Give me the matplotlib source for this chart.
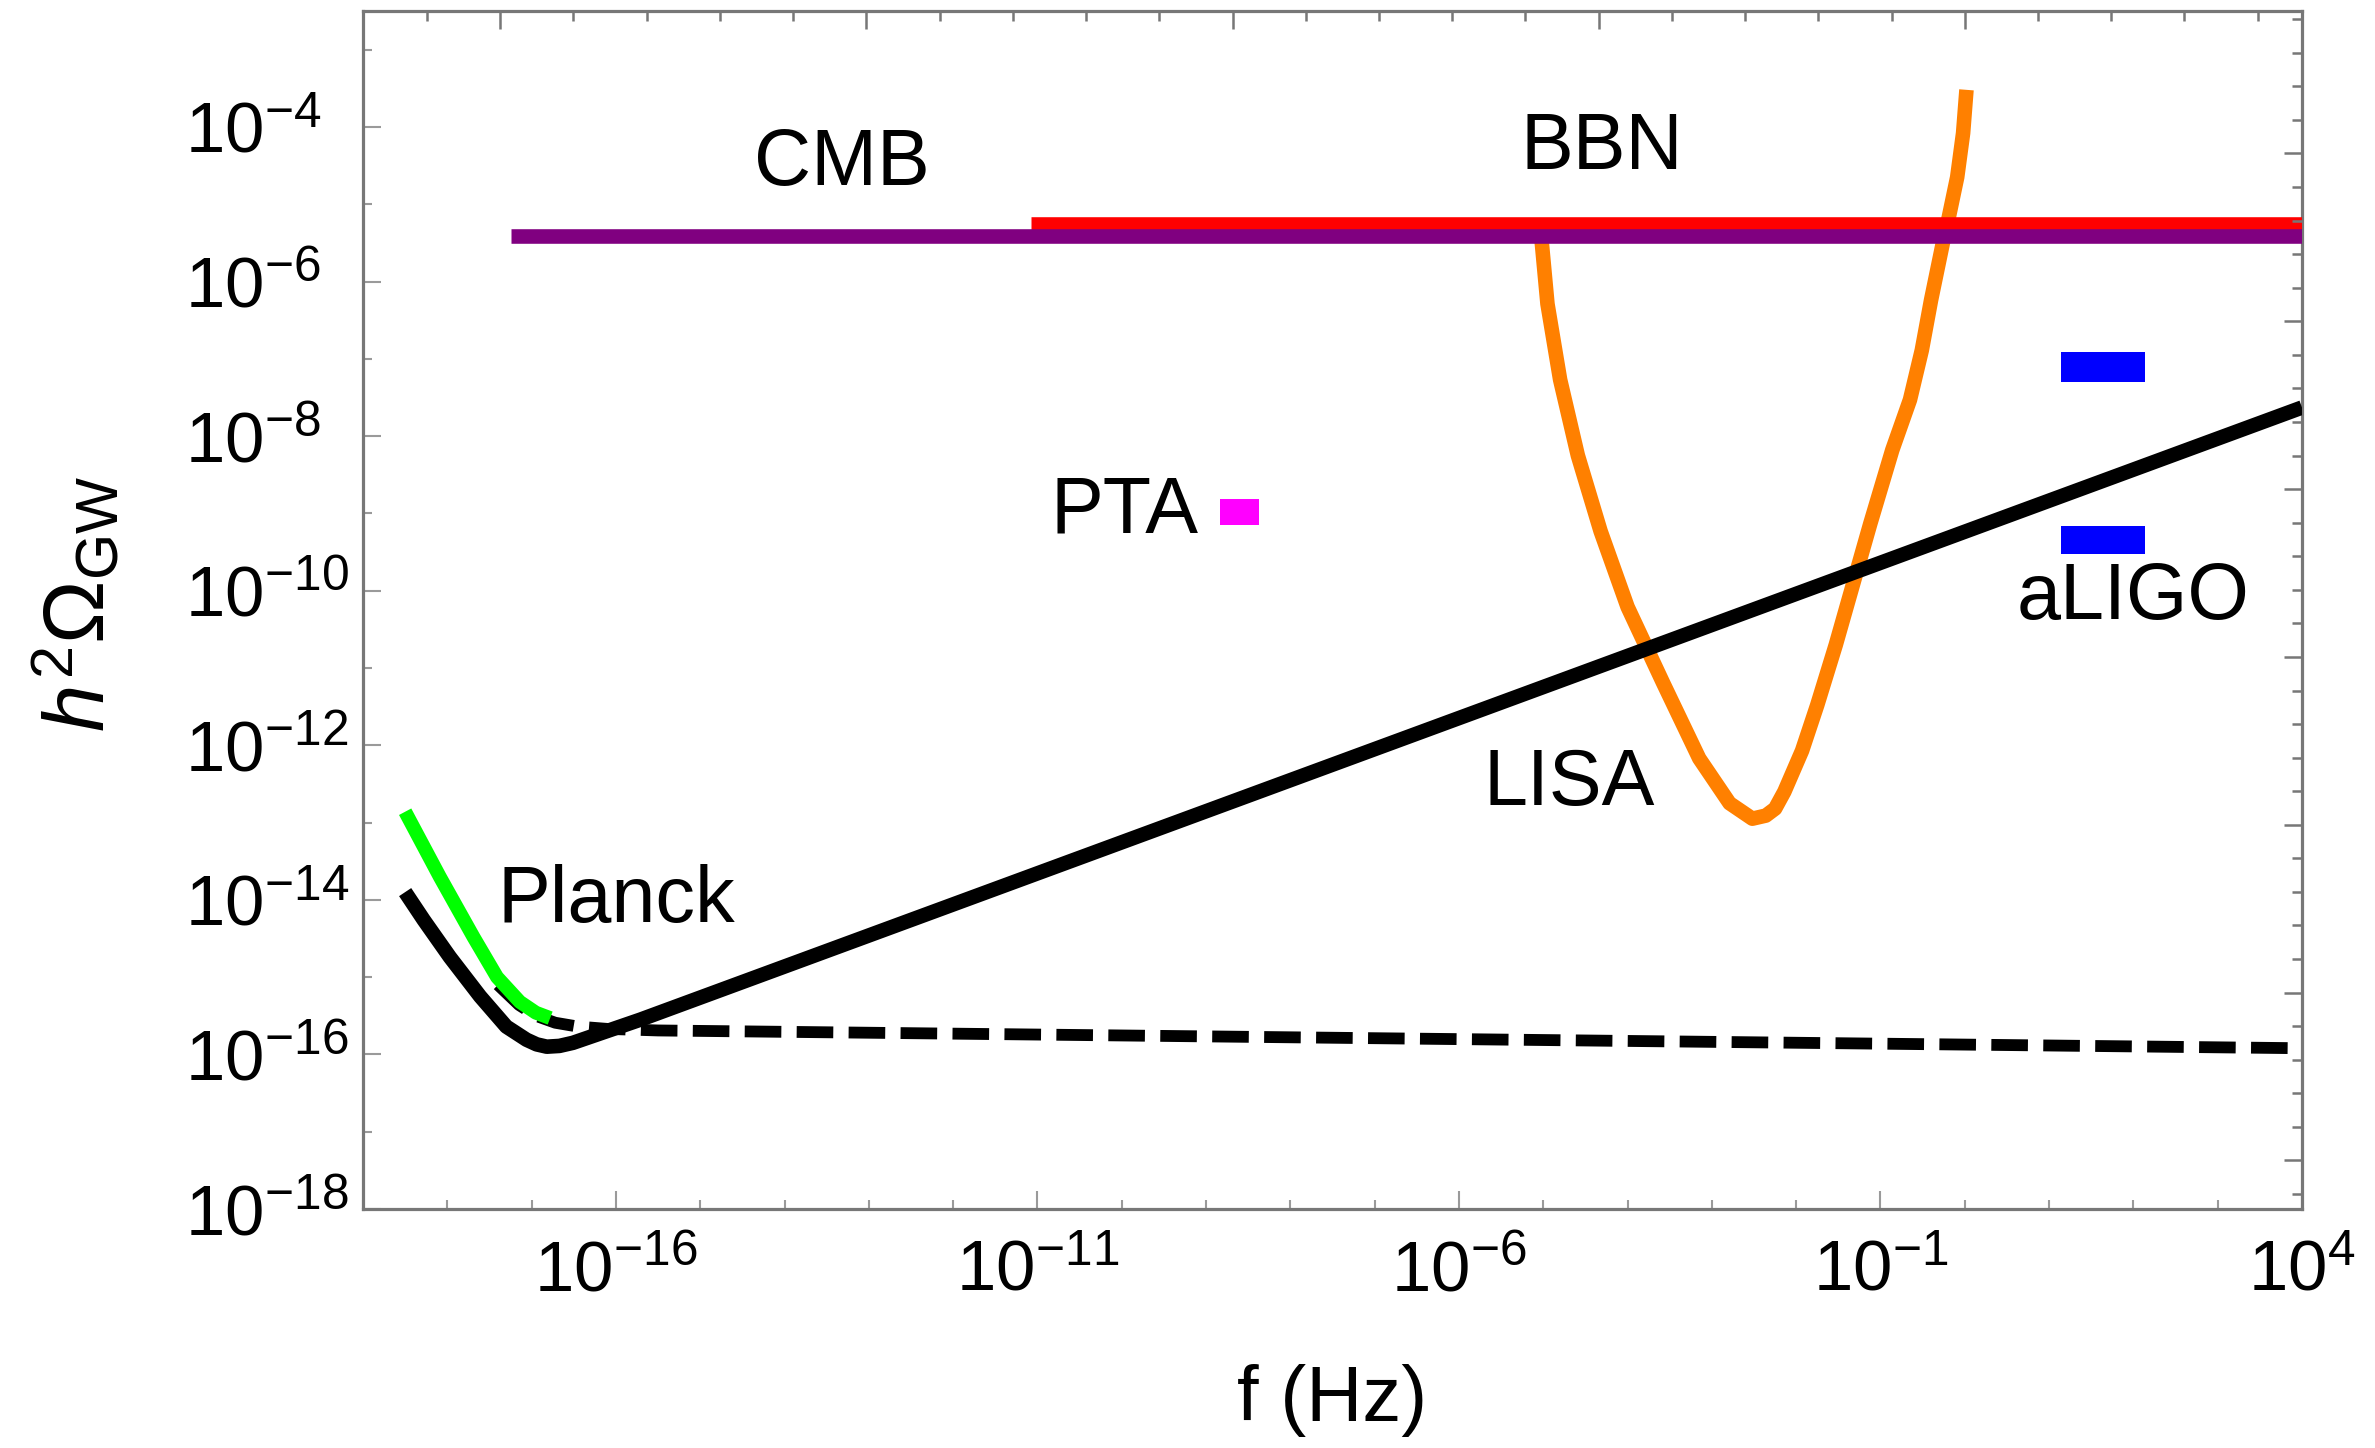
import numpy as np
import matplotlib.pyplot as plt
from matplotlib.ticker import FixedLocator, FuncFormatter, NullFormatter

plt.rcParams['font.family'] = ['Liberation Sans', 'DejaVu Sans']
plt.rcParams['mathtext.fontset'] = 'custom'
plt.rcParams['mathtext.rm'] = 'Liberation Sans'
plt.rcParams['mathtext.it'] = 'Liberation Sans:italic'
plt.rcParams['mathtext.bf'] = 'Liberation Sans:bold'


########## Data as log10(f) / log10(h^2 Omega)

##### solid black spectrum
model_logf = [-18.50, -18.28, -17.97, -17.61, -17.30, -17.06, -16.94, -16.82, -16.67,
              -16.51, -16.11, -15.71, 4.0]
model_logo = [-13.90, -14.26, -14.74, -15.25, -15.64, -15.81, -15.87, -15.90, -15.89,
              -15.85, -15.70, -15.55, -7.63]

##### dashed black spectrum
dashed_logf = [-17.40, -17.15, -16.95, -16.72, -16.45, -16.10, -15.50, 4.0]
dashed_logo = [-15.10, -15.36, -15.50, -15.59, -15.64, -15.67, -15.69, -15.92]

##### Planck (green)
planck_logf = [-18.50, -18.09, -17.69, -17.41, -17.14, -16.95, -16.78]
planck_logo = [-12.86, -13.70, -14.48, -15.00, -15.32, -15.46, -15.53]

##### LISA sensitivity (orange)
lisa_logf = [-5.03, -4.95, -4.80, -4.59, -4.32, -4.00, -3.58, -3.15, -2.79, -2.52,
             -2.36, -2.25, -2.14, -1.93, -1.75, -1.53, -1.35, -1.12, -0.86, -0.65,
             -0.51, -0.40, -0.26, -0.19, -0.09, -0.02, 0.02]
lisa_logo = [-5.35, -6.29, -7.27, -8.25, -9.23, -10.21, -11.19, -12.17, -12.75, -12.95,
             -12.91, -12.82, -12.60, -12.07, -11.48, -10.70, -10.01, -9.13, -8.18, -7.53,
             -6.89, -6.24, -5.50, -5.17, -4.65, -4.08, -3.52]

##### CMB and BBN bounds
cmb_logf = [-17.25, 4.0]
cmb_logo = -5.41
bbn_logf = [-11.08, 4.0]
bbn_logo = -5.25

##### PTA box and aLIGO boxes: [f_lo, f_hi], [o_lo, o_hi]
pta_logf = [-8.83, -8.37]
pta_logo = [-9.15, -8.82]
ligo_logf = [1.14, 2.14]
ligo_logo_o1 = [-7.30, -6.91]
ligo_logo_o2 = [-9.53, -9.16]

##### Text labels
label_text = ['CMB', 'BBN', 'PTA', 'LISA', 'Planck', 'aLIGO']
label_logf = [-13.32, -4.30, -9.97, -4.69, -15.99, 2.00]
label_logo = [-4.48, -4.28, -8.98, -12.51, -14.02, -10.10]

##### Axes ranges and ticks
xlim_log = (-19, 4)
ylim_log = (-18, -2.5)
xmajor_log = [-16, -11, -6, -1, 4]
ymajor_log = [-18, -16, -14, -12, -10, -8, -6, -4]



########## Figure
fig = plt.figure(figsize=(23.75, 14.48), dpi=100)
ax = fig.add_axes([363/2375, 1-1209/1448, 1939/2375, 1198/1448])

p = lambda v: 10**np.asarray(v, dtype=float)

ax.plot(p(lisa_logf), p(lisa_logo), color='#FF8000', lw=10.5, solid_capstyle='butt',
        solid_joinstyle='round', zorder=2)
ax.plot(p(bbn_logf), p([bbn_logo]*2), color='#FF0000', lw=10.5, solid_capstyle='butt', zorder=3)
ax.plot(p(cmb_logf), p([cmb_logo]*2), color='#800080', lw=10.5, solid_capstyle='butt', zorder=3)
ax.plot(p(dashed_logf), p(dashed_logo), color='black', lw=8.5, dashes=(3.1, 1.3), zorder=4)
ax.plot(p(model_logf), p(model_logo), color='black', lw=10.5, solid_capstyle='butt',
        solid_joinstyle='round', zorder=5)
ax.plot(p(planck_logf), p(planck_logo), color='#00FF00', lw=10, solid_capstyle='butt',
        solid_joinstyle='round', zorder=6)

ax.fill_between(p(pta_logf), p(pta_logo[0]), p(pta_logo[1]), color='#FF00FF', lw=0, zorder=4)
for lo, hi in [ligo_logo_o1, ligo_logo_o2]:
    ax.fill_between(p(ligo_logf), p(lo), p(hi), color='#0000FF', lw=0, zorder=4)

for txt, lf, lo in zip(label_text, label_logf, label_logo):
    ax.text(10**lf, 10**lo, txt, ha='center', va='center', fontsize=57, zorder=7)

ax.set_xscale('log')
ax.set_yscale('log')
ax.set_xlim(10.0**xlim_log[0], 10.0**xlim_log[1])
ax.set_ylim(10.0**ylim_log[0], 10.0**ylim_log[1])

fmt = FuncFormatter(lambda v, pos: r'$10^{%d}$' % round(np.log10(v)))
ax.xaxis.set_major_locator(FixedLocator(p(xmajor_log)))
ax.xaxis.set_minor_locator(FixedLocator(p(range(xlim_log[0], xlim_log[1] + 1))))
ax.xaxis.set_major_formatter(fmt)
ax.xaxis.set_minor_formatter(NullFormatter())
ax.yaxis.set_major_locator(FixedLocator(p(ymajor_log)))
ax.yaxis.set_minor_locator(FixedLocator(p(range(-18, -2))))
ax.yaxis.set_major_formatter(fmt)
ax.yaxis.set_minor_formatter(NullFormatter())

ax.tick_params(which='both', direction='in', color='#9a9a9a', width=1.5,
               top=False, right=False, labelsize=51)
ax.tick_params(which='major', length=13)
ax.tick_params(which='minor', length=6.5)
ax.tick_params(axis='x', which='major', pad=22)
ax.tick_params(axis='y', which='major', pad=128)
for lab in ax.get_yticklabels():
    lab.set_horizontalalignment('left')

for s in ax.spines.values():
    s.set_color('#777777')
    s.set_linewidth(2.3)

ax.set_xlabel('f (Hz)', fontsize=56)
ax.xaxis.set_label_coords(0.5, -0.16)
ax.xaxis.label.set_va('center')
ax.set_ylabel(r'$h^2\Omega_{\mathrm{GW}}$', fontsize=61)
ax.yaxis.set_label_coords(-0.1475, 0.505)
ax.yaxis.label.set_va('center')


##### Top / right frame ticks (natural-log spacing, as in the original frame)
ax_ln = fig.add_axes(ax.get_position(), frameon=False)
ax_ln.patch.set_visible(False)
ax_ln.set_xlim(np.log(10.0) * xlim_log[0], np.log(10.0) * xlim_log[1])
ax_ln.set_ylim(np.log(10.0) * ylim_log[0], np.log(10.0) * ylim_log[1])
ax_ln.xaxis.tick_top()
ax_ln.yaxis.tick_right()
ax_ln.set_xticks(range(-40, 1, 10))
ax_ln.set_xticks(range(-42, 9, 2), minor=True)
ax_ln.set_yticks(range(-40, -9, 5))
ax_ln.set_yticks(range(-41, -5), minor=True)
ax_ln.tick_params(which='both', direction='in', color='#777777', width=1.8,
                  labeltop=False, labelright=False, labelbottom=False, labelleft=False)
ax_ln.tick_params(which='major', length=13)
ax_ln.tick_params(which='minor', length=7.5)

plt.savefig('out.png', dpi=100)
plt.close()
